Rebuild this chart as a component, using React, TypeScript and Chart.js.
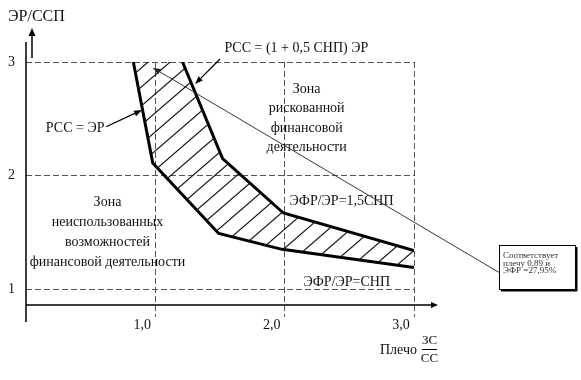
import React, { useEffect, useRef } from "react";
import { Chart, registerables } from "chart.js";

Chart.register(...registerables);

// ---- data ----
const xTickValues = [1, 2, 3];
const xTickLabels = ["1,0", "2,0", "3,0"];
const yTickValues = [1, 2, 3];
const yTickLabels = ["1", "2", "3"];

// РСС = ЭР (lower boundary of the hatched zone)
const lowerX = [0.83, 0.98, 1.49, 1.98, 3.0];
const lowerY = [3.0, 2.11, 1.49, 1.35, 1.19];
// РСС = (1 + 0,5 СНП) ЭР (upper boundary)
const upperX = [1.21, 1.52, 1.99, 3.0];
const upperY = [3.0, 2.15, 1.67, 1.34];

// point referred to by the callout
const calloutPoint = [0.98, 2.95];
const calloutLines = ["Соответствует", "плечу 0,89 и", "ЭФР =27,95%"];

const rightZoneLines = ["Зона", "рискованной", "финансовой", "деятельности"];
const leftZoneLines = ["Зона", "неиспользованных", "возможностей", "финансовой деятельности"];

const SERIF = '"Liberation Serif", "DejaVu Serif", serif';

function makePattern(): CanvasPattern | string {
  const w = 22;
  const h = 19;
  const c = document.createElement("canvas");
  c.width = w;
  c.height = h;
  const g = c.getContext("2d");
  if (!g) return "rgba(0,0,0,0.2)";
  g.strokeStyle = "#111";
  g.lineWidth = 1.2;
  for (const k of [-1, 0, 1]) {
    g.beginPath();
    g.moveTo(k * w - w, h + h);
    g.lineTo(k * w + 2 * w, -h);
    g.stroke();
  }
  const p = g.createPattern(c, "repeat");
  return p || "rgba(0,0,0,0.2)";
}

function arrow(
  ctx: CanvasRenderingContext2D,
  x1: number, y1: number, x2: number, y2: number,
  headLen: number, headW: number, lw: number
) {
  const a = Math.atan2(y2 - y1, x2 - x1);
  const bx = x2 - headLen * Math.cos(a);
  const by = y2 - headLen * Math.sin(a);
  ctx.beginPath();
  ctx.lineWidth = lw;
  ctx.moveTo(x1, y1);
  ctx.lineTo(bx, by);
  ctx.stroke();
  ctx.beginPath();
  ctx.moveTo(x2, y2);
  ctx.lineTo(bx + headW * Math.sin(a), by - headW * Math.cos(a));
  ctx.lineTo(bx - headW * Math.sin(a), by + headW * Math.cos(a));
  ctx.closePath();
  ctx.fill();
}

const annotationPlugin = {
  id: "annotations",
  afterDraw(chart: any) {
    const ctx: CanvasRenderingContext2D = chart.ctx;
    const xs = chart.scales.x;
    const ys = chart.scales.y;
    const area = chart.chartArea;
    const px = (v: number) => xs.getPixelForValue(v);
    const py = (v: number) => ys.getPixelForValue(v);

    ctx.save();
    ctx.strokeStyle = "#000";
    ctx.fillStyle = "#000";

    // axes
    ctx.lineWidth = 1.5;
    ctx.beginPath();
    ctx.moveTo(area.left, 42);
    ctx.lineTo(area.left, 322);
    ctx.stroke();
    arrow(ctx, area.left, area.bottom, 438, area.bottom, 7, 3, 1.5);
    arrow(ctx, area.left + 6, 58, area.left + 6, 28, 8, 3.5, 1.5);

    // texts
    ctx.textBaseline = "middle";
    ctx.fillStyle = "#111";
    ctx.font = `16px ${SERIF}`;
    ctx.textAlign = "left";
    ctx.fillText("ЭР/ССП", 8, 17);

    ctx.font = `14px ${SERIF}`;
    ctx.textAlign = "center";
    // right zone
    rightZoneLines.forEach((t, i) => ctx.fillText(t, px(2.17), py(2.76) + i * 19.3));
    // left zone
    leftZoneLines.forEach((t, i) => ctx.fillText(t, px(0.63), py(1.76) + i * 19.7));

    ctx.fillText("ЭФР/ЭР=1,5СНП", px(2.44), py(1.77));
    ctx.fillText("ЭФР/ЭР=СНП", px(2.48), py(1.06));
    ctx.fillText("РСС = ЭР", px(0.38), py(2.42));
    ctx.fillText("РСС = (1 + 0,5 СНП) ЭР", px(2.09), py(3.12));

    // x axis title with fraction
    ctx.textAlign = "right";
    ctx.fillText("Плечо", 417, 350);
    ctx.font = `13px ${SERIF}`;
    ctx.textAlign = "center";
    ctx.fillText("ЗС", 429.5, 341);
    ctx.fillText("СС", 429.5, 359);
    ctx.lineWidth = 1;
    ctx.beginPath();
    ctx.moveTo(422, 349.5);
    ctx.lineTo(437, 349.5);
    ctx.stroke();

    // arrows to the curves
    ctx.fillStyle = "#000";
    arrow(ctx, px(0.62), py(2.43), px(0.897), py(2.577), 8, 3, 1.3);
    arrow(ctx, px(1.5), py(3.026), px(1.307), py(2.806), 8, 3, 1.3);

    // callout box
    const bx = 499, by = 245, bw = 76, bh = 44;
    ctx.fillStyle = "#000";
    ctx.fillRect(bx + 2, by + bh, bw, 2.5);
    ctx.fillRect(bx + bw, by + 2, 2.5, bh);
    ctx.fillStyle = "#fff";
    ctx.fillRect(bx, by, bw, bh);
    ctx.lineWidth = 1;
    ctx.strokeStyle = "#000";
    ctx.strokeRect(bx + 0.5, by + 0.5, bw, bh);
    ctx.fillStyle = "#333";
    ctx.font = `9px ${SERIF}`;
    ctx.textAlign = "left";
    calloutLines.forEach((t, i) => ctx.fillText(t, 503, 256 + i * 7.5));

    // callout pointer
    ctx.fillStyle = "#222";
    ctx.strokeStyle = "#222";
    arrow(ctx, bx + 1, 273, px(calloutPoint[0]), py(calloutPoint[1]), 8, 3, 0.9);

    ctx.restore();
  },
};

export default function App() {
  const ref = useRef<HTMLCanvasElement | null>(null);

  useEffect(() => {
    if (!ref.current) return;
    const pattern = makePattern();
    const hatch = [
      ...lowerX.map((x, i) => ({ x, y: lowerY[i] })),
      ...upperX.map((x, i) => ({ x, y: upperY[i] })).reverse(),
    ];
    const chart = new Chart(ref.current, {
      type: "scatter",
      data: {
        datasets: [
          {
            data: hatch,
            showLine: true,
            fill: "shape",
            backgroundColor: pattern as any,
            borderColor: "rgba(0,0,0,0)",
            borderWidth: 0,
            pointRadius: 0,
            tension: 0,
          },
          {
            data: lowerX.map((x, i) => ({ x, y: lowerY[i] })),
            showLine: true,
            fill: false,
            borderColor: "#000",
            borderWidth: 3,
            pointRadius: 0,
            tension: 0,
            borderJoinStyle: "miter",
          },
          {
            data: upperX.map((x, i) => ({ x, y: upperY[i] })),
            showLine: true,
            fill: false,
            borderColor: "#000",
            borderWidth: 3,
            pointRadius: 0,
            tension: 0,
            borderJoinStyle: "miter",
          },
        ],
      },
      options: {
        animation: false,
        responsive: false,
        layout: { padding: { top: 62, right: 167, left: 0, bottom: 0 } },
        plugins: { legend: { display: false }, tooltip: { enabled: false } },
        scales: {
          x: {
            type: "linear",
            min: 0,
            max: 3,
            afterFit: (s: any) => { s.height = 75; },
            afterBuildTicks: (s: any) => { s.ticks = xTickValues.map((v) => ({ value: v })); },
            ticks: {
              autoSkip: false,
              maxRotation: 0,
              padding: 0,
              labelOffset: -13,
              color: "#111",
              font: { family: SERIF, size: 14 },
              callback: (v: any) => {
                const i = xTickValues.indexOf(Number(v));
                return i >= 0 ? xTickLabels[i] : "";
              },
            },
            grid: {
              color: "#555",
              lineWidth: 1,
              drawTicks: true,
              tickLength: 12,
              tickColor: "#555",
              tickBorderDash: [6, 3],
            },
            border: { display: false, dash: [6, 3] },
          },
          y: {
            type: "linear",
            min: 0.86,
            max: 3,
            afterFit: (s: any) => { s.width = 26; },
            afterBuildTicks: (s: any) => { s.ticks = yTickValues.map((v) => ({ value: v })); },
            ticks: {
              autoSkip: false,
              padding: 11,
              color: "#111",
              font: { family: SERIF, size: 14 },
              callback: (v: any) => {
                const i = yTickValues.indexOf(Number(v));
                return i >= 0 ? yTickLabels[i] : "";
              },
            },
            grid: {
              color: "#555",
              lineWidth: 1,
              drawTicks: false,
            },
            border: { display: false, dash: [6, 3] },
          },
        },
      },
      plugins: [annotationPlugin],
    } as any);
    return () => chart.destroy();
  }, []);

  return (
    <div style={{ position: "absolute", left: 0, top: 0, width: 581, height: 380, background: "#fff" }}>
      <canvas ref={ref} width={581} height={380} style={{ display: "block" }} />
    </div>
  );
}
